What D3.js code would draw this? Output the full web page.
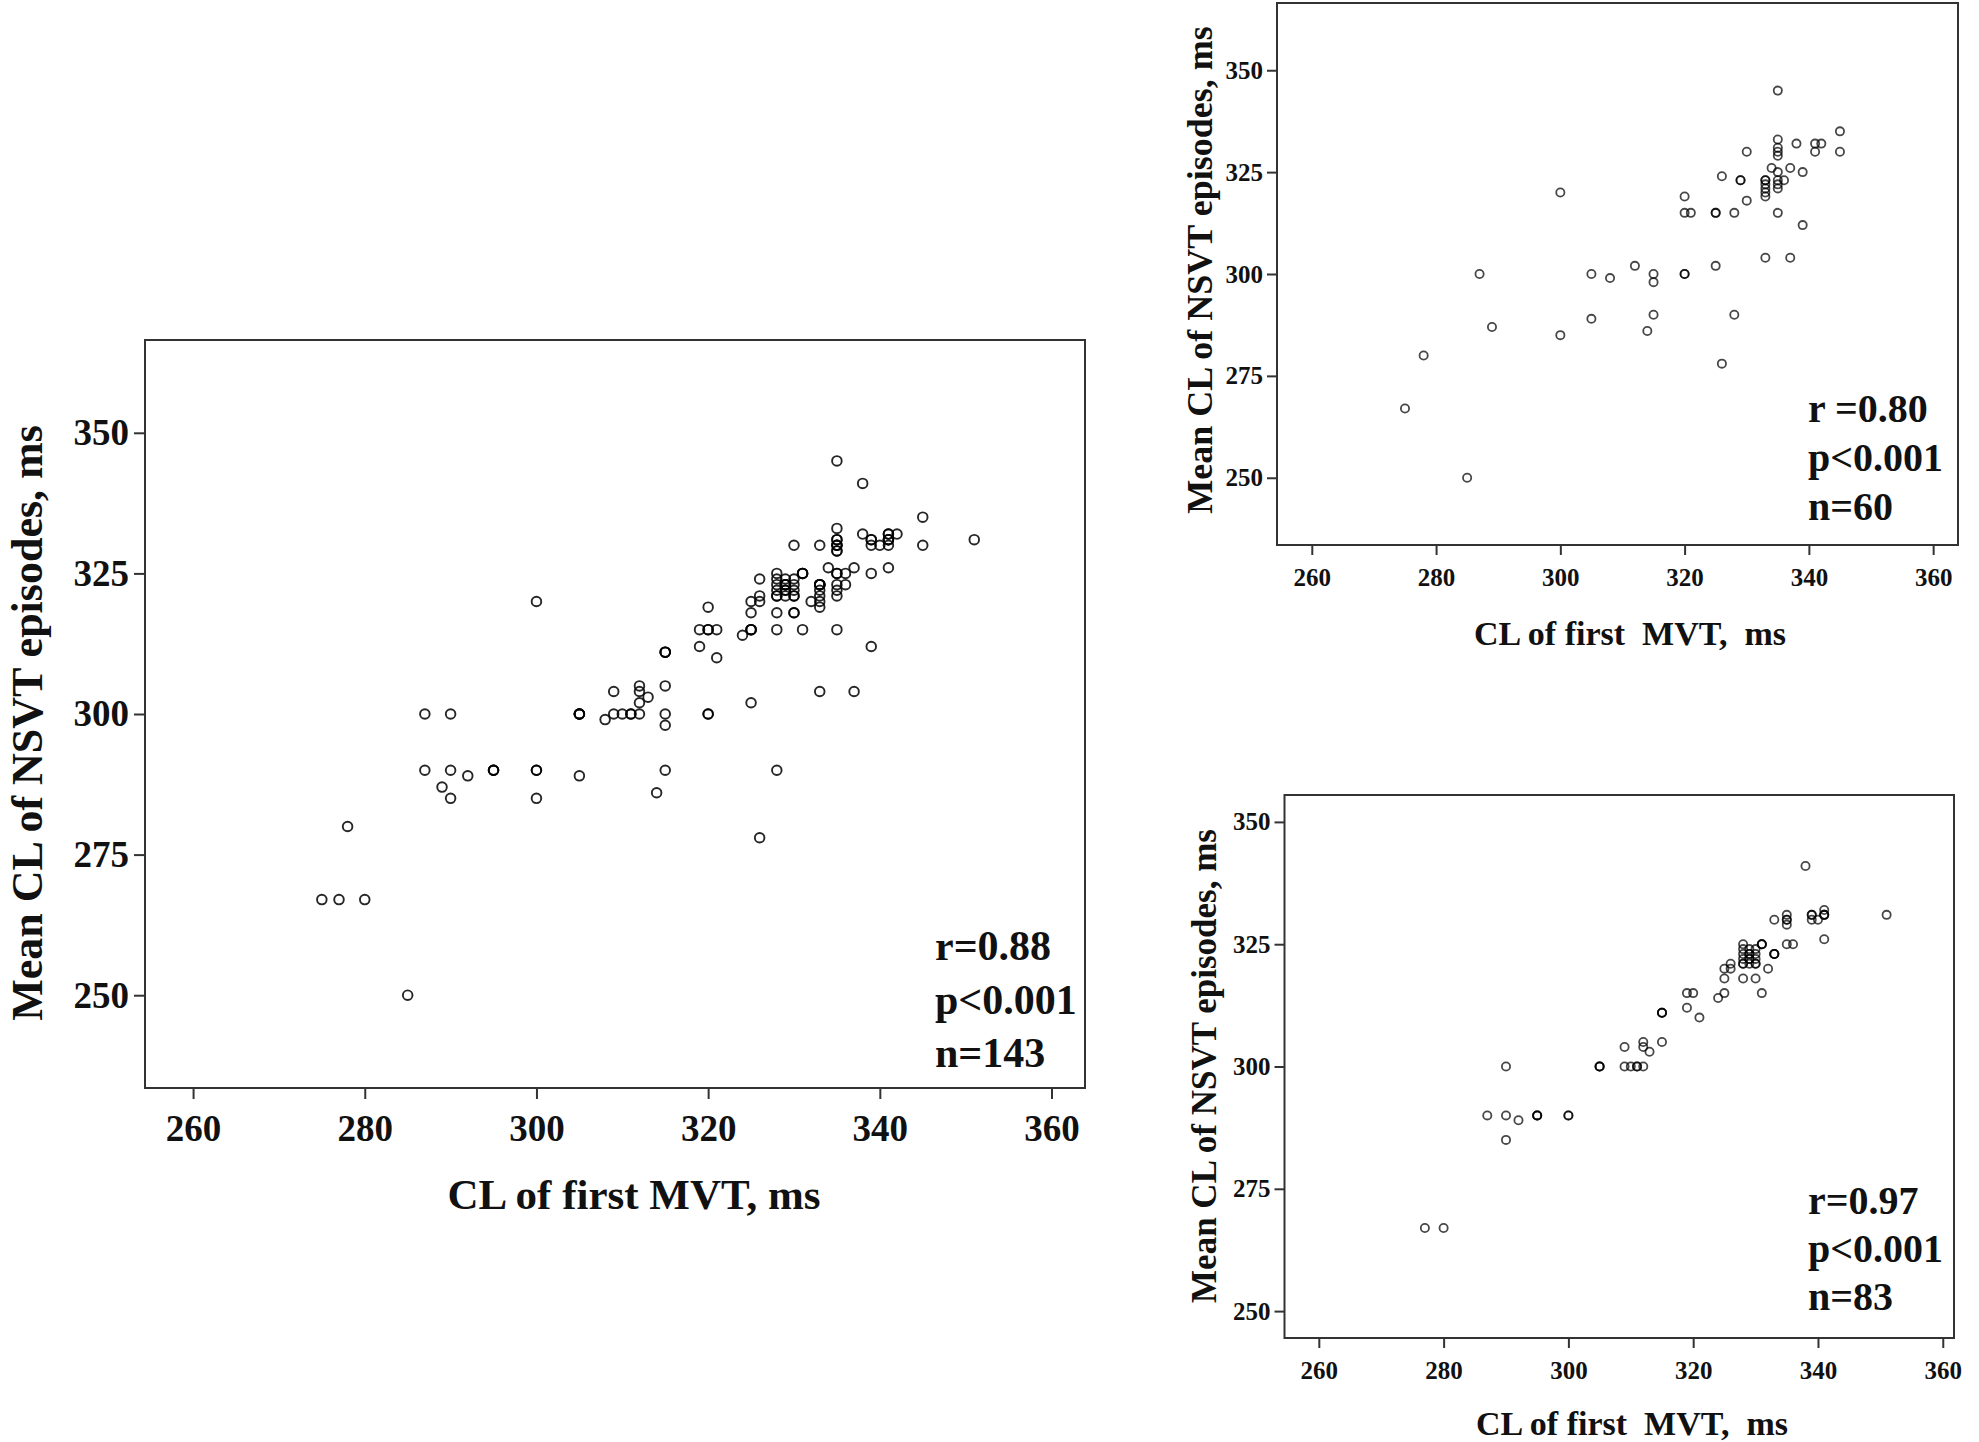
<!DOCTYPE html>
<html>
<head>
<meta charset="utf-8">
<script src="https://cdn.jsdelivr.net/npm/d3@7"></script>
<style>
  html, body { margin: 0; padding: 0; background: #fff; }
  svg { display: block; }
  text { font-family: "Liberation Serif", "Times New Roman", serif; font-weight: bold; fill: #111; }
</style>
</head>
<body>
<svg id="chart" width="1979" height="1442"></svg>
<script>
// ---- Data ----
// Panel A (top right, n=60): CL of first MVT vs mean CL of NSVT episodes (ms)
const groupA_x = [335,345,335,338,342,341,341,345,330,335, 335,335,334,337,339,326,329,329,333,333,
                  335,335,336,335,333,333,333,330,320,320, 321,325,325,328,335,339,333,337,325,320,
                  320,300,287,305,308,312,315,315,289,300, 305,315,314,326,278,275,285,328,335,333];
const groupA_y = [345,335,333,332,332,332,330,330,330,331, 330,329,326,326,325,324,323,323,323,323,
                  323,322,323,321,321,320,319,318,319,315, 315,315,315,315,315,312,304,304,302,300,
                  300,320,300,300,299,302,300,298,287,285, 289,290,286,278,280,267,250,290,325,322];
// Panel B (bottom right, n=83)
const groupB_x = [338,351,341,341,341,339,339,340,335,335, 335,333,341,328,331,331,335,336,333,333,
                  328,329,330,329,328,329,330,329,326,325, 332,325,328,330,319,320,325,324,331,315,
                  315,319,321,315,309,312,312,313,305,305, 309,310,311,312,311,290,287,290,292,295,
                  295,300,300,290,277,280,328,330,328,330, 329,328,330,333,331,305,295,315,341,329,
                  326,335,339];
const groupB_y = [341,331,332,331,331,331,330,330,331,330, 329,330,326,325,325,325,325,325,323,323,
                  323,323,323,323,321,321,321,322,321,320, 320,318,318,318,315,315,315,314,315,311,
                  311,312,310,305,304,305,304,303,300,300, 300,300,300,300,300,300,290,290,289,290,
                  290,290,290,285,267,267,322,322,324,324, 324,321,321,323,325,300,290,311,331,322,
                  320,330,331];
// Axis tick values and labels
const xTicks = [260, 280, 300, 320, 340, 360];
const yTicks = [250, 275, 300, 325, 350];
const xTitle = "CL of first MVT, ms";
const xTitleSmall = "CL of first  MVT,  ms";
const yTitle = "Mean CL of NSVT episodes, ms";
const statsAll = ["r=0.88", "p<0.001", "n=143"];
const statsA = ["r =0.80", "p<0.001", "n=60"];
const statsB = ["r=0.97", "p<0.001", "n=83"];

const toPts = (xs, ys) => xs.map((x, i) => ({x, y: ys[i]}));
const ptsA = toPts(groupA_x, groupA_y);
const ptsB = toPts(groupB_x, groupB_y);
const ptsAll = ptsA.concat(ptsB);

const svg = d3.select("#chart");

function panel(cfg) {
  const g = svg.append("g");
  const x = d3.scaleLinear().domain(cfg.xDomain).range([cfg.left, cfg.right]);
  const y = d3.scaleLinear().domain(cfg.yDomain).range([cfg.bottom, cfg.top]);

  // points
  g.append("g").selectAll("circle").data(cfg.data).join("circle")
    .attr("cx", d => x(d.x)).attr("cy", d => y(d.y)).attr("r", cfg.r)
    .attr("fill", "none").attr("stroke", "#000")
    .attr("stroke-opacity", cfg.opacity).attr("stroke-width", cfg.sw);

  // frame
  g.append("rect").attr("x", cfg.left).attr("y", cfg.top)
    .attr("width", cfg.right - cfg.left).attr("height", cfg.bottom - cfg.top)
    .attr("fill", "none").attr("stroke", "#333").attr("stroke-width", 2);

  // axes
  const xa = g.append("g").attr("transform", `translate(0,${cfg.bottom})`)
    .call(d3.axisBottom(x).tickValues(xTicks).tickSize(cfg.tick).tickSizeOuter(0).tickPadding(cfg.xPad));
  const ya = g.append("g").attr("transform", `translate(${cfg.left},0)`)
    .call(d3.axisLeft(y).tickValues(yTicks).tickSize(cfg.tick).tickSizeOuter(0).tickPadding(cfg.yPad));
  [xa, ya].forEach(a => {
    a.select(".domain").remove();
    a.selectAll("line").attr("stroke", "#333").attr("stroke-width", 2);
    a.selectAll("text").style("font-size", cfg.tickFont + "px")
      .style("font-family", "'Liberation Serif', serif").style("font-weight", "bold")
      .attr("fill", "#111");
  });

  // titles
  g.append("text").attr("x", cfg.xTitleX).attr("y", cfg.xTitleY)
    .attr("text-anchor", "middle").style("font-size", cfg.titleFont + "px")
    .style("white-space", "pre").text(cfg.xTitle);
  g.append("text").attr("transform", `translate(${cfg.yTitleX},${cfg.yTitleY}) rotate(-90)`)
    .attr("text-anchor", "middle").style("font-size", cfg.yTitleFont + "px")
    .text(yTitle);

  // stats
  g.append("g").selectAll("text").data(cfg.stats).join("text")
    .attr("x", cfg.statX).attr("y", (d, i) => cfg.statY + i * cfg.statDy)
    .style("font-size", cfg.statFont + "px").style("white-space", "pre")
    .text(d => d);
}

// main panel
panel({
  data: ptsAll, xDomain: [254.4, 363.9], yDomain: [233.5, 366.5],
  left: 145, right: 1085, top: 340, bottom: 1088,
  r: 4.8, sw: 1.9, opacity: 0.85, tick: 11, xPad: 16, yPad: 5, tickFont: 37,
  xTitle: xTitle, xTitleX: 634, xTitleY: 1209, titleFont: 43,
  yTitleX: 42, yTitleY: 723, yTitleFont: 44,
  stats: statsAll, statX: 935, statY: 960, statDy: 53.5, statFont: 42
});

// top-right panel
panel({
  data: ptsA, xDomain: [254.4, 364.0], yDomain: [233.5, 366.5],
  left: 1277, right: 1958, top: 3, bottom: 545,
  r: 4.1, sw: 1.8, opacity: 0.72, tick: 10, xPad: 13, yPad: 4, tickFont: 25,
  xTitle: xTitleSmall, xTitleX: 1630, xTitleY: 645, titleFont: 34,
  yTitleX: 1212, yTitleY: 270, yTitleFont: 36,
  stats: statsA, statX: 1808, statY: 422, statDy: 49, statFont: 40
});

// bottom-right panel
panel({
  data: ptsB, xDomain: [254.5, 361.8], yDomain: [244.5, 355.5],
  left: 1284.5, right: 1954, top: 795, bottom: 1338,
  r: 4.1, sw: 1.8, opacity: 0.72, tick: 10, xPad: 13, yPad: 4, tickFont: 25,
  xTitle: xTitleSmall, xTitleX: 1632, xTitleY: 1435, titleFont: 34,
  yTitleX: 1216, yTitleY: 1066, yTitleFont: 35,
  stats: statsB, statX: 1808, statY: 1214, statDy: 48, statFont: 40
});
</script>
</body>
</html>
